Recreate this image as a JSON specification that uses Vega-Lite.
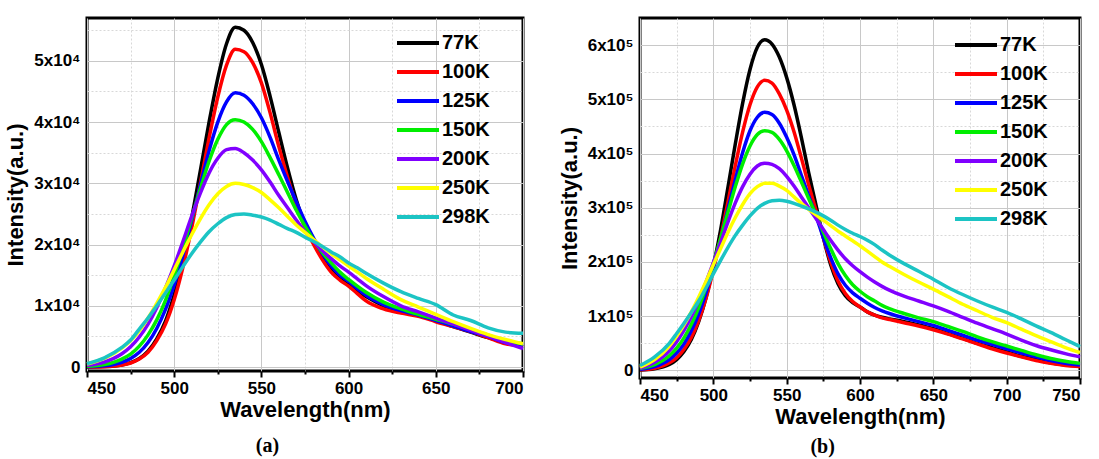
{
"$schema": "https://vega.github.io/schema/vega-lite/v6.json",
"padding": {"left": 3, "top": 16, "right": 5, "bottom": 2},
"spacing": 24,
"config": {
  "font": "Liberation Sans",
  "view": {"stroke": "black", "strokeWidth": 3},
  "axis": {"labelFont": "Liberation Sans", "labelFontWeight": "bold", "labelFontSize": 17, "labelColor": "black", "titleFont": "Liberation Sans", "titleFontWeight": "bold", "titleFontSize": 22, "titleColor": "black", "domain": false, "tickColor": "black", "tickWidth": 2, "labelOverlap": false},
  "legend": {"orient": "none", "title": null, "symbolType": "M-3,0H3", "symbolSize": 196, "symbolStrokeWidth": 4, "labelFont": "Liberation Sans", "labelFontSize": 20, "labelFontWeight": "bold", "labelColor": "black", "rowPadding": 9, "labelOffset": 14, "padding": 0}
},
"datasets": {
"a": [
{"T":"77K","w":450,"I":10},{"T":"77K","w":460,"I":70},{"T":"77K","w":470,"I":340},{"T":"77K","w":475,"I":710},{"T":"77K","w":480,"I":1400},{"T":"77K","w":485,"I":2600},{"T":"77K","w":490,"I":4600},{"T":"77K","w":495,"I":7500},{"T":"77K","w":500,"I":11800},{"T":"77K","w":505,"I":17400},{"T":"77K","w":510,"I":24300},{"T":"77K","w":515,"I":32100},{"T":"77K","w":520,"I":40000},{"T":"77K","w":525,"I":47200},{"T":"77K","w":530,"I":52800},{"T":"77K","w":535,"I":55500},{"T":"77K","w":540,"I":55000},{"T":"77K","w":545,"I":53000},{"T":"77K","w":550,"I":49400},{"T":"77K","w":555,"I":44200},{"T":"77K","w":560,"I":38300},{"T":"77K","w":565,"I":32500},{"T":"77K","w":570,"I":27300},{"T":"77K","w":575,"I":23200},{"T":"77K","w":580,"I":20400},{"T":"77K","w":585,"I":18000},{"T":"77K","w":590,"I":16000},{"T":"77K","w":595,"I":14500},{"T":"77K","w":600,"I":13400},{"T":"77K","w":605,"I":12400},{"T":"77K","w":610,"I":11500},{"T":"77K","w":620,"I":10000},{"T":"77K","w":630,"I":9000},{"T":"77K","w":640,"I":8400},{"T":"77K","w":650,"I":7600},{"T":"77K","w":660,"I":6600},{"T":"77K","w":670,"I":5700},{"T":"77K","w":680,"I":4800},{"T":"77K","w":690,"I":4000},{"T":"77K","w":700,"I":3300},
{"T":"100K","w":450,"I":10},{"T":"100K","w":460,"I":60},{"T":"100K","w":470,"I":320},{"T":"100K","w":475,"I":660},{"T":"100K","w":480,"I":1300},{"T":"100K","w":485,"I":2400},{"T":"100K","w":490,"I":4300},{"T":"100K","w":495,"I":7000},{"T":"100K","w":500,"I":11000},{"T":"100K","w":505,"I":16300},{"T":"100K","w":510,"I":22700},{"T":"100K","w":515,"I":30000},{"T":"100K","w":520,"I":37400},{"T":"100K","w":525,"I":44100},{"T":"100K","w":530,"I":49300},{"T":"100K","w":535,"I":51900},{"T":"100K","w":540,"I":51500},{"T":"100K","w":545,"I":49700},{"T":"100K","w":550,"I":46400},{"T":"100K","w":555,"I":41500},{"T":"100K","w":560,"I":36000},{"T":"100K","w":565,"I":31000},{"T":"100K","w":570,"I":26500},{"T":"100K","w":575,"I":22800},{"T":"100K","w":580,"I":20000},{"T":"100K","w":585,"I":17500},{"T":"100K","w":590,"I":15500},{"T":"100K","w":595,"I":14200},{"T":"100K","w":600,"I":13200},{"T":"100K","w":605,"I":12000},{"T":"100K","w":610,"I":10800},{"T":"100K","w":620,"I":9500},{"T":"100K","w":630,"I":8800},{"T":"100K","w":640,"I":8300},{"T":"100K","w":650,"I":7400},{"T":"100K","w":660,"I":6600},{"T":"100K","w":670,"I":5800},{"T":"100K","w":680,"I":4800},{"T":"100K","w":690,"I":3800},{"T":"100K","w":700,"I":3500},
{"T":"125K","w":450,"I":50},{"T":"125K","w":460,"I":210},{"T":"125K","w":470,"I":780},{"T":"125K","w":475,"I":1400},{"T":"125K","w":480,"I":2400},{"T":"125K","w":485,"I":4000},{"T":"125K","w":490,"I":6300},{"T":"125K","w":495,"I":9400},{"T":"125K","w":500,"I":13400},{"T":"125K","w":505,"I":18300},{"T":"125K","w":510,"I":23900},{"T":"125K","w":515,"I":29700},{"T":"125K","w":520,"I":35300},{"T":"125K","w":525,"I":40000},{"T":"125K","w":530,"I":43300},{"T":"125K","w":535,"I":44800},{"T":"125K","w":540,"I":44400},{"T":"125K","w":545,"I":43000},{"T":"125K","w":550,"I":40700},{"T":"125K","w":555,"I":37500},{"T":"125K","w":560,"I":33800},{"T":"125K","w":565,"I":30300},{"T":"125K","w":570,"I":27000},{"T":"125K","w":575,"I":23800},{"T":"125K","w":580,"I":21000},{"T":"125K","w":585,"I":18500},{"T":"125K","w":590,"I":16500},{"T":"125K","w":595,"I":15000},{"T":"125K","w":600,"I":14000},{"T":"125K","w":605,"I":12800},{"T":"125K","w":610,"I":11700},{"T":"125K","w":620,"I":10200},{"T":"125K","w":630,"I":9200},{"T":"125K","w":640,"I":8500},{"T":"125K","w":650,"I":7600},{"T":"125K","w":660,"I":6700},{"T":"125K","w":670,"I":5800},{"T":"125K","w":680,"I":5000},{"T":"125K","w":690,"I":4000},{"T":"125K","w":700,"I":3600},
{"T":"150K","w":450,"I":110},{"T":"150K","w":460,"I":410},{"T":"150K","w":470,"I":1300},{"T":"150K","w":475,"I":2100},{"T":"150K","w":480,"I":3400},{"T":"150K","w":485,"I":5250},{"T":"150K","w":490,"I":7700},{"T":"150K","w":495,"I":10900},{"T":"150K","w":500,"I":14900},{"T":"150K","w":505,"I":19400},{"T":"150K","w":510,"I":24300},{"T":"150K","w":515,"I":29100},{"T":"150K","w":520,"I":33600},{"T":"150K","w":525,"I":37200},{"T":"150K","w":530,"I":39600},{"T":"150K","w":535,"I":40400},{"T":"150K","w":540,"I":40000},{"T":"150K","w":545,"I":38800},{"T":"150K","w":550,"I":36800},{"T":"150K","w":555,"I":34200},{"T":"150K","w":560,"I":31400},{"T":"150K","w":565,"I":28500},{"T":"150K","w":570,"I":25600},{"T":"150K","w":575,"I":23000},{"T":"150K","w":580,"I":20700},{"T":"150K","w":585,"I":18700},{"T":"150K","w":590,"I":17000},{"T":"150K","w":595,"I":15500},{"T":"150K","w":600,"I":14300},{"T":"150K","w":605,"I":13200},{"T":"150K","w":610,"I":12200},{"T":"150K","w":620,"I":10600},{"T":"150K","w":630,"I":9500},{"T":"150K","w":640,"I":8600},{"T":"150K","w":650,"I":7800},{"T":"150K","w":660,"I":7000},{"T":"150K","w":670,"I":6100},{"T":"150K","w":680,"I":5200},{"T":"150K","w":690,"I":4200},{"T":"150K","w":700,"I":3800},
{"T":"200K","w":450,"I":270},{"T":"200K","w":460,"I":820},{"T":"200K","w":470,"I":2160},{"T":"200K","w":475,"I":3300},{"T":"200K","w":480,"I":4900},{"T":"200K","w":485,"I":7000},{"T":"200K","w":490,"I":9700},{"T":"200K","w":495,"I":12900},{"T":"200K","w":500,"I":16500},{"T":"200K","w":505,"I":20500},{"T":"200K","w":510,"I":24600},{"T":"200K","w":515,"I":28400},{"T":"200K","w":520,"I":31700},{"T":"200K","w":525,"I":34100},{"T":"200K","w":530,"I":35500},{"T":"200K","w":535,"I":35700},{"T":"200K","w":540,"I":35000},{"T":"200K","w":545,"I":33800},{"T":"200K","w":550,"I":32200},{"T":"200K","w":555,"I":30200},{"T":"200K","w":560,"I":28000},{"T":"200K","w":565,"I":26000},{"T":"200K","w":570,"I":24000},{"T":"200K","w":575,"I":22100},{"T":"200K","w":580,"I":20500},{"T":"200K","w":585,"I":19000},{"T":"200K","w":590,"I":17700},{"T":"200K","w":595,"I":16500},{"T":"200K","w":600,"I":15500},{"T":"200K","w":605,"I":14400},{"T":"200K","w":610,"I":13300},{"T":"200K","w":620,"I":11500},{"T":"200K","w":630,"I":10000},{"T":"200K","w":640,"I":9000},{"T":"200K","w":650,"I":8000},{"T":"200K","w":660,"I":7000},{"T":"200K","w":670,"I":6000},{"T":"200K","w":680,"I":5000},{"T":"200K","w":690,"I":4000},{"T":"200K","w":700,"I":3000},
{"T":"250K","w":450,"I":500},{"T":"250K","w":460,"I":1400},{"T":"250K","w":470,"I":3100},{"T":"250K","w":475,"I":4300},{"T":"250K","w":480,"I":5900},{"T":"250K","w":485,"I":8000},{"T":"250K","w":490,"I":10400},{"T":"250K","w":495,"I":13000},{"T":"250K","w":500,"I":15900},{"T":"250K","w":505,"I":18800},{"T":"250K","w":510,"I":21600},{"T":"250K","w":515,"I":24200},{"T":"250K","w":520,"I":26500},{"T":"250K","w":525,"I":28300},{"T":"250K","w":530,"I":29500},{"T":"250K","w":535,"I":30000},{"T":"250K","w":540,"I":29800},{"T":"250K","w":545,"I":29300},{"T":"250K","w":550,"I":28500},{"T":"250K","w":555,"I":27300},{"T":"250K","w":560,"I":26000},{"T":"250K","w":565,"I":24600},{"T":"250K","w":570,"I":23200},{"T":"250K","w":575,"I":22000},{"T":"250K","w":580,"I":20800},{"T":"250K","w":585,"I":19600},{"T":"250K","w":590,"I":18500},{"T":"250K","w":595,"I":17500},{"T":"250K","w":600,"I":16500},{"T":"250K","w":605,"I":15500},{"T":"250K","w":610,"I":14500},{"T":"250K","w":620,"I":12700},{"T":"250K","w":630,"I":11000},{"T":"250K","w":640,"I":9800},{"T":"250K","w":650,"I":8600},{"T":"250K","w":660,"I":7400},{"T":"250K","w":670,"I":6300},{"T":"250K","w":680,"I":5300},{"T":"250K","w":690,"I":4500},{"T":"250K","w":700,"I":3800},
{"T":"298K","w":450,"I":550},{"T":"298K","w":460,"I":1500},{"T":"298K","w":470,"I":3200},{"T":"298K","w":475,"I":4400},{"T":"298K","w":480,"I":6200},{"T":"298K","w":485,"I":8000},{"T":"298K","w":490,"I":10000},{"T":"298K","w":495,"I":12100},{"T":"298K","w":500,"I":14200},{"T":"298K","w":505,"I":16400},{"T":"298K","w":510,"I":18500},{"T":"298K","w":515,"I":20400},{"T":"298K","w":520,"I":22100},{"T":"298K","w":525,"I":23400},{"T":"298K","w":530,"I":24400},{"T":"298K","w":535,"I":24900},{"T":"298K","w":540,"I":25000},{"T":"298K","w":545,"I":24800},{"T":"298K","w":550,"I":24500},{"T":"298K","w":555,"I":24000},{"T":"298K","w":560,"I":23300},{"T":"298K","w":565,"I":22600},{"T":"298K","w":570,"I":22000},{"T":"298K","w":575,"I":21200},{"T":"298K","w":580,"I":20500},{"T":"298K","w":585,"I":19700},{"T":"298K","w":590,"I":18800},{"T":"298K","w":595,"I":18000},{"T":"298K","w":600,"I":17000},{"T":"298K","w":605,"I":16200},{"T":"298K","w":610,"I":15300},{"T":"298K","w":620,"I":13700},{"T":"298K","w":630,"I":12300},{"T":"298K","w":640,"I":11200},{"T":"298K","w":650,"I":10200},{"T":"298K","w":660,"I":8500},{"T":"298K","w":670,"I":7600},{"T":"298K","w":680,"I":6400},{"T":"298K","w":690,"I":5700},{"T":"298K","w":700,"I":5500}
],
"b": [
{"T":"77K","w":450,"I":700},{"T":"77K","w":460,"I":3000},{"T":"77K","w":470,"I":11000},{"T":"77K","w":475,"I":20000},{"T":"77K","w":480,"I":35000},{"T":"77K","w":485,"I":57000},{"T":"77K","w":490,"I":90000},{"T":"77K","w":495,"I":134000},{"T":"77K","w":500,"I":192000},{"T":"77K","w":505,"I":260000},{"T":"77K","w":510,"I":338000},{"T":"77K","w":515,"I":418000},{"T":"77K","w":520,"I":493000},{"T":"77K","w":525,"I":555000},{"T":"77K","w":530,"I":596000},{"T":"77K","w":535,"I":610000},{"T":"77K","w":540,"I":602000},{"T":"77K","w":545,"I":578000},{"T":"77K","w":550,"I":540000},{"T":"77K","w":555,"I":490000},{"T":"77K","w":560,"I":430000},{"T":"77K","w":565,"I":365000},{"T":"77K","w":570,"I":305000},{"T":"77K","w":575,"I":245000},{"T":"77K","w":580,"I":195000},{"T":"77K","w":585,"I":160000},{"T":"77K","w":590,"I":138000},{"T":"77K","w":595,"I":125000},{"T":"77K","w":600,"I":117000},{"T":"77K","w":605,"I":108000},{"T":"77K","w":610,"I":102000},{"T":"77K","w":615,"I":98000},{"T":"77K","w":620,"I":95000},{"T":"77K","w":630,"I":90000},{"T":"77K","w":640,"I":84000},{"T":"77K","w":650,"I":77000},{"T":"77K","w":660,"I":68000},{"T":"77K","w":670,"I":59000},{"T":"77K","w":680,"I":50000},{"T":"77K","w":690,"I":42000},{"T":"77K","w":700,"I":34000},{"T":"77K","w":710,"I":26000},{"T":"77K","w":720,"I":20000},{"T":"77K","w":730,"I":14000},{"T":"77K","w":740,"I":10000},{"T":"77K","w":750,"I":8000},
{"T":"100K","w":450,"I":1000},{"T":"100K","w":460,"I":4000},{"T":"100K","w":470,"I":14000},{"T":"100K","w":475,"I":23500},{"T":"100K","w":480,"I":39000},{"T":"100K","w":485,"I":61000},{"T":"100K","w":490,"I":92000},{"T":"100K","w":495,"I":133000},{"T":"100K","w":500,"I":185000},{"T":"100K","w":505,"I":245000},{"T":"100K","w":510,"I":311000},{"T":"100K","w":515,"I":378000},{"T":"100K","w":520,"I":440000},{"T":"100K","w":525,"I":490000},{"T":"100K","w":530,"I":523000},{"T":"100K","w":535,"I":535000},{"T":"100K","w":540,"I":530000},{"T":"100K","w":545,"I":510000},{"T":"100K","w":550,"I":480000},{"T":"100K","w":555,"I":440000},{"T":"100K","w":560,"I":392000},{"T":"100K","w":565,"I":342000},{"T":"100K","w":570,"I":295000},{"T":"100K","w":575,"I":245000},{"T":"100K","w":580,"I":200000},{"T":"100K","w":585,"I":165000},{"T":"100K","w":590,"I":142000},{"T":"100K","w":595,"I":127000},{"T":"100K","w":600,"I":117000},{"T":"100K","w":605,"I":108000},{"T":"100K","w":610,"I":102000},{"T":"100K","w":615,"I":97000},{"T":"100K","w":620,"I":94000},{"T":"100K","w":630,"I":88000},{"T":"100K","w":640,"I":82000},{"T":"100K","w":650,"I":75000},{"T":"100K","w":660,"I":67000},{"T":"100K","w":670,"I":58000},{"T":"100K","w":680,"I":49000},{"T":"100K","w":690,"I":40000},{"T":"100K","w":700,"I":32000},{"T":"100K","w":710,"I":25000},{"T":"100K","w":720,"I":18000},{"T":"100K","w":730,"I":13000},{"T":"100K","w":740,"I":9000},{"T":"100K","w":750,"I":7000},
{"T":"125K","w":450,"I":2100},{"T":"125K","w":460,"I":7000},{"T":"125K","w":470,"I":20000},{"T":"125K","w":475,"I":32000},{"T":"125K","w":480,"I":49000},{"T":"125K","w":485,"I":73000},{"T":"125K","w":490,"I":104000},{"T":"125K","w":495,"I":143000},{"T":"125K","w":500,"I":190000},{"T":"125K","w":505,"I":242000},{"T":"125K","w":510,"I":298000},{"T":"125K","w":515,"I":352000},{"T":"125K","w":520,"I":402000},{"T":"125K","w":525,"I":442000},{"T":"125K","w":530,"I":467000},{"T":"125K","w":535,"I":476000},{"T":"125K","w":540,"I":472000},{"T":"125K","w":545,"I":456000},{"T":"125K","w":550,"I":430000},{"T":"125K","w":555,"I":398000},{"T":"125K","w":560,"I":360000},{"T":"125K","w":565,"I":322000},{"T":"125K","w":570,"I":285000},{"T":"125K","w":575,"I":245000},{"T":"125K","w":580,"I":208000},{"T":"125K","w":585,"I":178000},{"T":"125K","w":590,"I":157000},{"T":"125K","w":595,"I":143000},{"T":"125K","w":600,"I":133000},{"T":"125K","w":605,"I":124000},{"T":"125K","w":610,"I":116000},{"T":"125K","w":615,"I":110000},{"T":"125K","w":620,"I":105000},{"T":"125K","w":630,"I":97000},{"T":"125K","w":640,"I":90000},{"T":"125K","w":650,"I":83000},{"T":"125K","w":660,"I":74000},{"T":"125K","w":670,"I":65000},{"T":"125K","w":680,"I":56000},{"T":"125K","w":690,"I":48000},{"T":"125K","w":700,"I":40000},{"T":"125K","w":710,"I":32000},{"T":"125K","w":720,"I":25000},{"T":"125K","w":730,"I":18000},{"T":"125K","w":740,"I":13000},{"T":"125K","w":750,"I":10000},
{"T":"150K","w":450,"I":3700},{"T":"150K","w":460,"I":10700},{"T":"150K","w":470,"I":27000},{"T":"150K","w":475,"I":41000},{"T":"150K","w":480,"I":60000},{"T":"150K","w":485,"I":85000},{"T":"150K","w":490,"I":116000},{"T":"150K","w":495,"I":153000},{"T":"150K","w":500,"I":197000},{"T":"150K","w":505,"I":244000},{"T":"150K","w":510,"I":292000},{"T":"150K","w":515,"I":339000},{"T":"150K","w":520,"I":381000},{"T":"150K","w":525,"I":414000},{"T":"150K","w":530,"I":435000},{"T":"150K","w":535,"I":442000},{"T":"150K","w":540,"I":439000},{"T":"150K","w":545,"I":426000},{"T":"150K","w":550,"I":405000},{"T":"150K","w":555,"I":378000},{"T":"150K","w":560,"I":348000},{"T":"150K","w":565,"I":317000},{"T":"150K","w":570,"I":287000},{"T":"150K","w":575,"I":255000},{"T":"150K","w":580,"I":225000},{"T":"150K","w":585,"I":197000},{"T":"150K","w":590,"I":175000},{"T":"150K","w":595,"I":158000},{"T":"150K","w":600,"I":146000},{"T":"150K","w":605,"I":136000},{"T":"150K","w":610,"I":128000},{"T":"150K","w":615,"I":120000},{"T":"150K","w":620,"I":114000},{"T":"150K","w":630,"I":105000},{"T":"150K","w":640,"I":97000},{"T":"150K","w":650,"I":90000},{"T":"150K","w":660,"I":81000},{"T":"150K","w":670,"I":72000},{"T":"150K","w":680,"I":62000},{"T":"150K","w":690,"I":53000},{"T":"150K","w":700,"I":45000},{"T":"150K","w":710,"I":37000},{"T":"150K","w":720,"I":29000},{"T":"150K","w":730,"I":22000},{"T":"150K","w":740,"I":17000},{"T":"150K","w":750,"I":13000},
{"T":"200K","w":450,"I":4000},{"T":"200K","w":460,"I":15000},{"T":"200K","w":470,"I":36000},{"T":"200K","w":475,"I":53000},{"T":"200K","w":480,"I":74000},{"T":"200K","w":485,"I":99000},{"T":"200K","w":490,"I":129000},{"T":"200K","w":495,"I":163000},{"T":"200K","w":500,"I":199000},{"T":"200K","w":505,"I":236000},{"T":"200K","w":510,"I":274000},{"T":"200K","w":515,"I":309000},{"T":"200K","w":520,"I":339000},{"T":"200K","w":525,"I":362000},{"T":"200K","w":530,"I":377000},{"T":"200K","w":535,"I":382000},{"T":"200K","w":540,"I":380000},{"T":"200K","w":545,"I":372000},{"T":"200K","w":550,"I":358000},{"T":"200K","w":555,"I":340000},{"T":"200K","w":560,"I":320000},{"T":"200K","w":565,"I":300000},{"T":"200K","w":570,"I":280000},{"T":"200K","w":575,"I":260000},{"T":"200K","w":580,"I":240000},{"T":"200K","w":585,"I":222000},{"T":"200K","w":590,"I":206000},{"T":"200K","w":595,"I":193000},{"T":"200K","w":600,"I":182000},{"T":"200K","w":605,"I":172000},{"T":"200K","w":610,"I":163000},{"T":"200K","w":615,"I":155000},{"T":"200K","w":620,"I":148000},{"T":"200K","w":630,"I":137000},{"T":"200K","w":640,"I":128000},{"T":"200K","w":650,"I":119000},{"T":"200K","w":660,"I":109000},{"T":"200K","w":670,"I":98000},{"T":"200K","w":680,"I":87000},{"T":"200K","w":690,"I":77000},{"T":"200K","w":700,"I":67000},{"T":"200K","w":710,"I":56000},{"T":"200K","w":720,"I":46000},{"T":"200K","w":730,"I":38000},{"T":"200K","w":740,"I":31000},{"T":"200K","w":750,"I":25000},
{"T":"250K","w":450,"I":6000},{"T":"250K","w":460,"I":20000},{"T":"250K","w":470,"I":45000},{"T":"250K","w":475,"I":63000},{"T":"250K","w":480,"I":84000},{"T":"250K","w":485,"I":108000},{"T":"250K","w":490,"I":135000},{"T":"250K","w":495,"I":164000},{"T":"250K","w":500,"I":195000},{"T":"250K","w":505,"I":225000},{"T":"250K","w":510,"I":255000},{"T":"250K","w":515,"I":282000},{"T":"250K","w":520,"I":306000},{"T":"250K","w":525,"I":326000},{"T":"250K","w":530,"I":339000},{"T":"250K","w":535,"I":345000},{"T":"250K","w":540,"I":345000},{"T":"250K","w":545,"I":340000},{"T":"250K","w":550,"I":332000},{"T":"250K","w":555,"I":320000},{"T":"250K","w":560,"I":308000},{"T":"250K","w":565,"I":297000},{"T":"250K","w":570,"I":287000},{"T":"250K","w":575,"I":277000},{"T":"250K","w":580,"I":267000},{"T":"250K","w":585,"I":257000},{"T":"250K","w":590,"I":248000},{"T":"250K","w":595,"I":239000},{"T":"250K","w":600,"I":230000},{"T":"250K","w":605,"I":220000},{"T":"250K","w":610,"I":210000},{"T":"250K","w":615,"I":200000},{"T":"250K","w":620,"I":192000},{"T":"250K","w":630,"I":177000},{"T":"250K","w":640,"I":163000},{"T":"250K","w":650,"I":150000},{"T":"250K","w":660,"I":136000},{"T":"250K","w":670,"I":122000},{"T":"250K","w":680,"I":110000},{"T":"250K","w":690,"I":98000},{"T":"250K","w":700,"I":88000},{"T":"250K","w":710,"I":76000},{"T":"250K","w":720,"I":64000},{"T":"250K","w":730,"I":53000},{"T":"250K","w":740,"I":42000},{"T":"250K","w":750,"I":33000},
{"T":"298K","w":450,"I":9000},{"T":"298K","w":460,"I":25000},{"T":"298K","w":470,"I":50000},{"T":"298K","w":475,"I":68000},{"T":"298K","w":480,"I":87000},{"T":"298K","w":485,"I":107000},{"T":"298K","w":490,"I":128000},{"T":"298K","w":495,"I":152000},{"T":"298K","w":500,"I":178000},{"T":"298K","w":505,"I":203000},{"T":"298K","w":510,"I":227000},{"T":"298K","w":515,"I":249000},{"T":"298K","w":520,"I":268000},{"T":"298K","w":525,"I":285000},{"T":"298K","w":530,"I":299000},{"T":"298K","w":535,"I":308000},{"T":"298K","w":540,"I":313000},{"T":"298K","w":545,"I":314000},{"T":"298K","w":550,"I":312000},{"T":"298K","w":555,"I":308000},{"T":"298K","w":560,"I":303000},{"T":"298K","w":565,"I":298000},{"T":"298K","w":570,"I":292000},{"T":"298K","w":575,"I":285000},{"T":"298K","w":580,"I":277000},{"T":"298K","w":585,"I":268000},{"T":"298K","w":590,"I":260000},{"T":"298K","w":595,"I":253000},{"T":"298K","w":600,"I":247000},{"T":"298K","w":605,"I":240000},{"T":"298K","w":610,"I":232000},{"T":"298K","w":615,"I":222000},{"T":"298K","w":620,"I":213000},{"T":"298K","w":630,"I":197000},{"T":"298K","w":640,"I":183000},{"T":"298K","w":650,"I":168000},{"T":"298K","w":660,"I":153000},{"T":"298K","w":670,"I":140000},{"T":"298K","w":680,"I":128000},{"T":"298K","w":690,"I":117000},{"T":"298K","w":700,"I":107000},{"T":"298K","w":710,"I":95000},{"T":"298K","w":720,"I":82000},{"T":"298K","w":730,"I":70000},{"T":"298K","w":740,"I":57000},{"T":"298K","w":750,"I":44000}
]
},
"hconcat": [
{
  "width": 436, "height": 353,
  "title": {"text": "(a)", "orient": "bottom", "font": "Liberation Serif", "fontSize": 20, "fontWeight": "bold", "color": "black", "anchor": "middle", "frame": "bounds", "offset": 16},
  "data": {"name": "a"},
  "mark": {"type": "line", "strokeWidth": 3.5, "interpolate": "monotone"},
  "encoding": {
    "x": {"field": "w", "type": "quantitative", "scale": {"domain": [450, 700], "nice": false, "zero": false},
      "axis": {"title": "Wavelength(nm)", "values": [450,475,500,525,550,575,600,625,650,675,700], "labelExpr": "datum.value % 50 == 0 ? datum.label : ''",
        "tickSize": {"condition": {"test": "datum.value % 50 != 0", "value": 3}, "value": 6},
        "gridDash": {"condition": {"test": "datum.value % 50 != 0", "value": [2, 2]}, "value": []},
        "gridColor": {"condition": {"test": "datum.value % 50 != 0", "value": "#d8d8d8"}, "value": "#c8c8c8"},
        "labelPadding": 3, "titlePadding": 3}},
    "y": {"field": "I", "type": "quantitative", "scale": {"domain": [-650, 57000], "nice": false, "zero": false},
      "axis": {"title": "Intensity(a.u.)", "values": [0,5000,10000,15000,20000,25000,30000,35000,40000,45000,50000,55000],
        "labelExpr": "datum.value == 0 ? '0' : (datum.value % 10000 == 0 ? (datum.value / 10000) + 'x10⁴' : '')",
        "ticks": false, "labelPadding": 7, "titlePadding": 6,
        "gridDash": {"condition": {"test": "datum.value % 10000 != 0", "value": [2, 2]}, "value": []},
        "gridColor": {"condition": {"test": "datum.value % 10000 != 0", "value": "#d8d8d8"}, "value": "#c8c8c8"}}},
    "color": {"field": "T", "type": "nominal",
      "scale": {"domain": ["77K","100K","125K","150K","200K","250K","298K"], "range": ["#000000","#ff0000","#0000ff","#00ee00","#8000ff","#ffff00","#1cc4c4"]},
      "legend": {"legendX": 321, "legendY": 15}}
  }
},
{
  "width": 440, "height": 360,
  "title": {"text": "(b)", "orient": "bottom", "font": "Liberation Serif", "fontSize": 20, "fontWeight": "bold", "color": "black", "anchor": "middle", "frame": "bounds", "offset": 10},
  "data": {"name": "b"},
  "mark": {"type": "line", "strokeWidth": 3.5, "interpolate": "monotone"},
  "encoding": {
    "x": {"field": "w", "type": "quantitative", "scale": {"domain": [450, 750], "nice": false, "zero": false},
      "axis": {"title": "Wavelength(nm)", "values": [450,475,500,525,550,575,600,625,650,675,700,725,750], "labelExpr": "datum.value % 50 == 0 ? datum.label : ''",
        "tickSize": {"condition": {"test": "datum.value % 50 != 0", "value": 3}, "value": 6},
        "gridDash": {"condition": {"test": "datum.value % 50 != 0", "value": [2, 2]}, "value": []},
        "gridColor": {"condition": {"test": "datum.value % 50 != 0", "value": "#d8d8d8"}, "value": "#c8c8c8"},
        "labelPadding": 3, "titlePadding": 3}},
    "y": {"field": "I", "type": "quantitative", "scale": {"domain": [-14000, 650000], "nice": false, "zero": false},
      "axis": {"title": "Intensity(a.u.)", "values": [0,50000,100000,150000,200000,250000,300000,350000,400000,450000,500000,550000,600000],
        "labelExpr": "datum.value == 0 ? '0' : (datum.value % 100000 == 0 ? (datum.value / 100000) + 'x10⁵' : '')",
        "ticks": false, "labelPadding": 7, "titlePadding": 6,
        "gridDash": {"condition": {"test": "datum.value % 100000 != 0", "value": [2, 2]}, "value": []},
        "gridColor": {"condition": {"test": "datum.value % 100000 != 0", "value": "#d8d8d8"}, "value": "#c8c8c8"}}},
    "color": {"field": "T", "type": "nominal",
      "scale": {"domain": ["77K","100K","125K","150K","200K","250K","298K"], "range": ["#000000","#ff0000","#0000ff","#00ee00","#8000ff","#ffff00","#1cc4c4"]},
      "legend": {"legendX": 326, "legendY": 17}}
  }
}
],
"resolve": {"scale": {"color": "independent"}}
}
